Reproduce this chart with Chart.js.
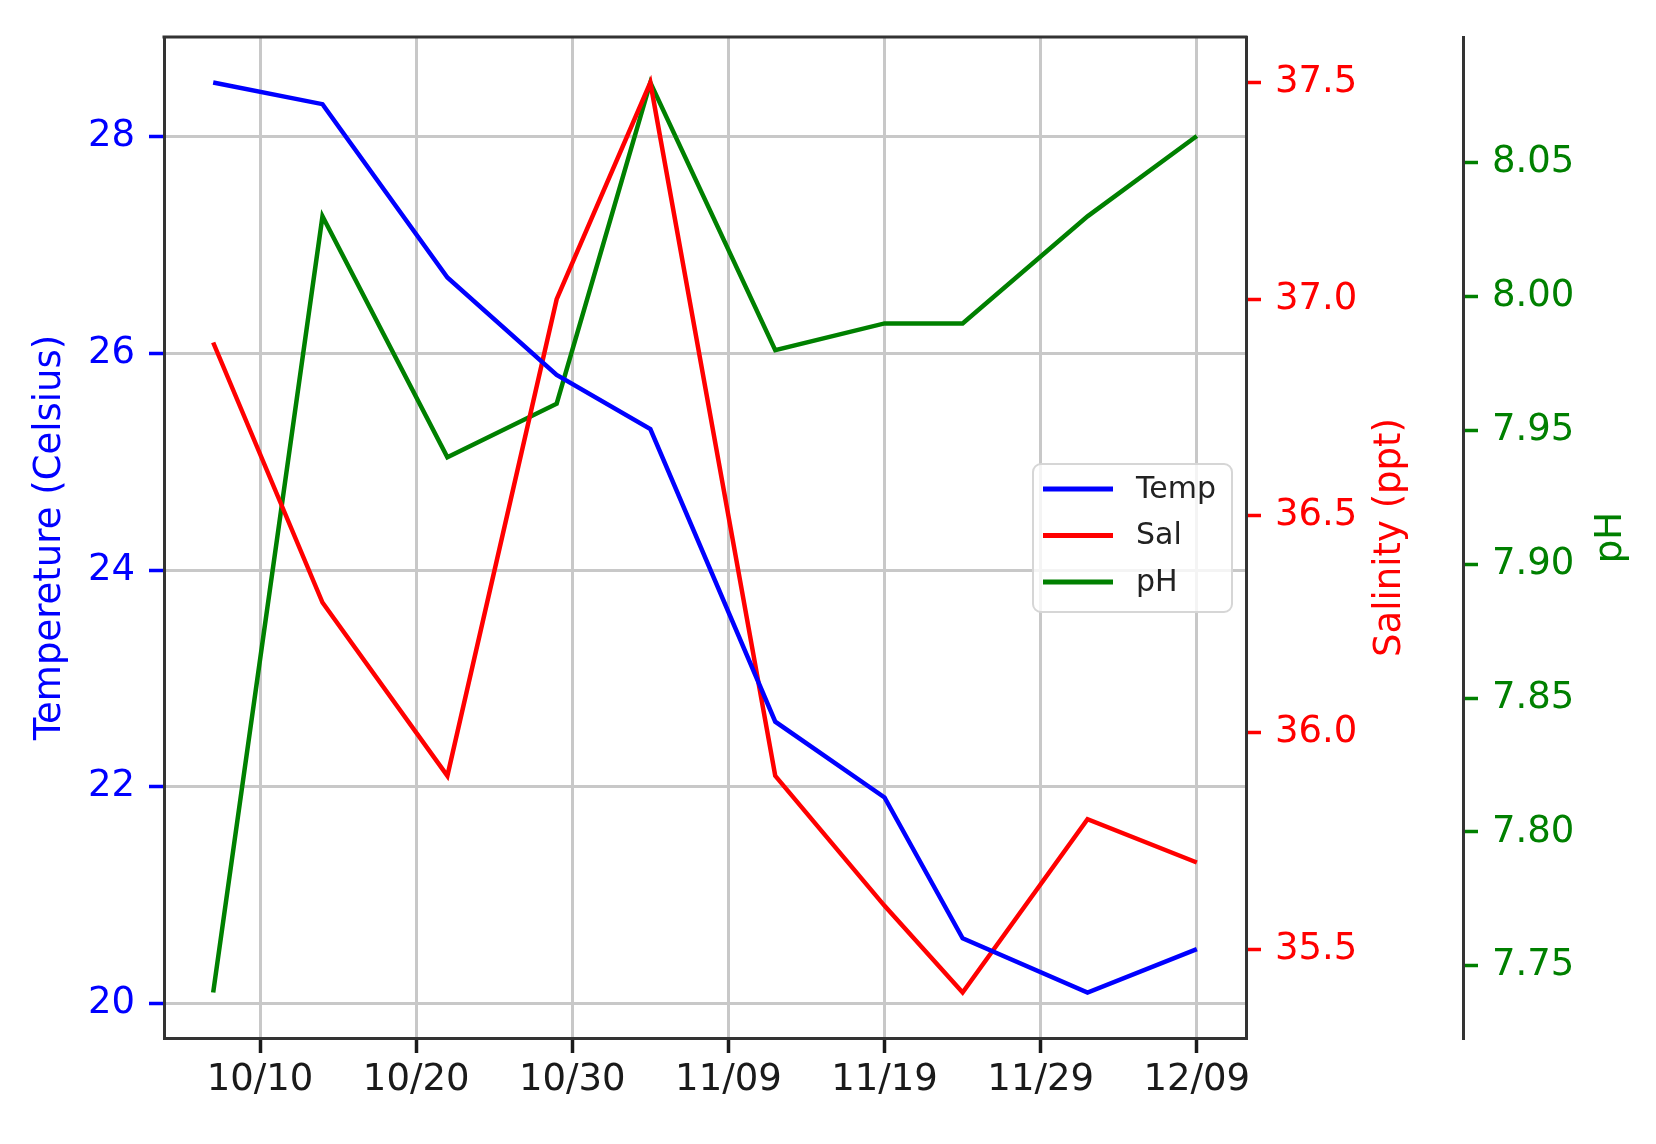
<!DOCTYPE html>
<html>
<head>
<meta charset="utf-8">
<script src="https://cdn.jsdelivr.net/npm/chart.js@4.4.1/dist/chart.umd.min.js"></script>
<style>
  html, body { margin: 0; padding: 0; background: #fff; }
  #wrap { width: 1656px; height: 1144px; }
</style>
</head>
<body>
<div id="wrap"><canvas id="chart" width="1656" height="1144"></canvas></div>
<script>
// sampling dates (mm/dd)
const dates = ['10/07', '10/14', '10/22', '10/29', '11/04', '11/12', '11/19', '11/24', '12/02', '12/09'];
const tempValues = [28.5, 28.3, 26.7, 25.8, 25.3, 22.6, 21.9, 20.6, 20.1, 20.5];
const salValues = [36.9, 36.3, 35.9, 37.0, 37.5, 35.9, 35.6, 35.4, 35.8, 35.7];
const phValues = [7.74, 8.03, 7.94, 7.96, 8.08, 7.98, 7.99, 7.99, 8.03, 8.06];

// tick labels
const xTickLabels = ['10/10', '10/20', '10/30', '11/09', '11/19', '11/29', '12/09'];
const tempTicks = [20, 22, 24, 26, 28];
const salTicks = [35.5, 36.0, 36.5, 37.0, 37.5];
const phTicks = [7.75, 7.80, 7.85, 7.90, 7.95, 8.00, 8.05];

const BLUE = '#0000ff';
const RED = '#ff0000';
const GREEN = '#008000';
const GRID = '#c8c8c8';
const SPINE = '#333333';
const FONT = 37;

Chart.defaults.font.family = "'DejaVu Sans', sans-serif";

// mm/dd -> day number (no time adapter available offline)
function toDay(s) {
  const [m, d] = s.split('/').map(Number);
  return (Date.UTC(2022, m - 1, d) - Date.UTC(2022, 9, 10)) / 86400000;
}

// matplotlib style 5% margins
function range(vals) {
  const lo = Math.min(...vals), hi = Math.max(...vals);
  const m = (hi - lo) * 0.05;
  return [lo - m, hi + m];
}

const xDays = dates.map(toDay);
const xTicks = xTickLabels.map(toDay);
const xRange = range(xDays);

const points = vals => vals.map((v, i) => ({ x: xDays[i], y: v }));

function yAxis(position, ticks, digits, color, width, r, onChart) {
  return {
    type: 'linear',
    position: position,
    min: r[0],
    max: r[1],
    afterBuildTicks: axis => { axis.ticks = ticks.map(v => ({ value: v })); },
    afterFit: axis => { axis.width = width; },
    ticks: {
      color: color,
      font: { size: FONT },
      padding: 14,
      callback: v => Number(v).toFixed(digits)
    },
    grid: {
      drawOnChartArea: onChart,
      color: GRID,
      lineWidth: 3,
      tickColor: color,
      tickLength: 15,
      tickWidth: 3.5
    },
    border: { display: true, color: SPINE, width: 3 }
  };
}

// frame top, rotated axis titles and legend box
const extras = {
  id: 'extras',
  afterDraw(chart) {
    const ctx = chart.ctx;
    const a = chart.chartArea;
    const s = chart.scales;
    ctx.save();

    ctx.strokeStyle = SPINE;
    ctx.lineWidth = 3;
    ctx.beginPath();
    ctx.moveTo(a.left - 1.5, a.top);
    ctx.lineTo(a.right + 1.5, a.top);
    ctx.stroke();

    const midY = (a.top + a.bottom) / 2;
    const titles = [
      ['Tempereture (Celsius)', s.yT.left + 50, BLUE],
      ['Salinity (ppt)', s.yS.right - 73, RED],
      ['pH', s.yP.left + 148, GREEN]
    ];
    ctx.font = FONT + "px 'DejaVu Sans'";
    ctx.textAlign = 'center';
    ctx.textBaseline = 'middle';
    titles.forEach(([text, x, color]) => {
      ctx.save();
      ctx.translate(x, midY);
      ctx.rotate(-Math.PI / 2);
      ctx.fillStyle = color;
      ctx.fillText(text, 0, 0);
      ctx.restore();
    });

    // legend
    const lx = 1033, ly = 464, lw = 199, lh = 148;
    ctx.beginPath();
    ctx.roundRect(lx, ly, lw, lh, 8);
    ctx.fillStyle = 'rgba(255,255,255,0.8)';
    ctx.fill();
    ctx.strokeStyle = '#d6d6d6';
    ctx.lineWidth = 2;
    ctx.stroke();
    ctx.font = "30px 'DejaVu Sans'";
    ctx.textAlign = 'left';
    chart.data.datasets.forEach((ds, i) => {
      const y = 489 + i * 46.5;
      ctx.strokeStyle = ds.borderColor;
      ctx.lineWidth = 5;
      ctx.beginPath();
      ctx.moveTo(lx + 10, y);
      ctx.lineTo(lx + 80, y);
      ctx.stroke();
      ctx.fillStyle = '#222';
      ctx.fillText(ds.label, lx + 103, y + 1);
    });
    ctx.restore();
  }
};

const lineStyle = { borderWidth: 4.5, pointRadius: 0, tension: 0, fill: false };

new Chart(document.getElementById('chart'), {
  type: 'line',
  data: {
    datasets: [
      { label: 'Temp', data: points(tempValues), borderColor: BLUE, yAxisID: 'yT', ...lineStyle },
      { label: 'Sal', data: points(salValues), borderColor: RED, yAxisID: 'yS', ...lineStyle },
      { label: 'pH', data: points(phValues), borderColor: GREEN, yAxisID: 'yP', ...lineStyle }
    ]
  },
  options: {
    responsive: false,
    animation: false,
    devicePixelRatio: 1,
    layout: { padding: { top: 37, left: 0, right: 0, bottom: 0 } },
    plugins: { legend: { display: false }, tooltip: { enabled: false } },
    scales: {
      x: {
        type: 'linear',
        position: 'bottom',
        min: xRange[0],
        max: xRange[1],
        afterBuildTicks: axis => { axis.ticks = xTicks.map(v => ({ value: v })); },
        afterFit: axis => { axis.height = 106; },
        ticks: {
          color: '#1a1a1a',
          font: { size: FONT },
          padding: 5,
          maxRotation: 0,
          autoSkip: false,
          callback: (v, i) => xTickLabels[i]
        },
        grid: { color: GRID, lineWidth: 3, tickColor: '#1a1a1a', tickLength: 15, tickWidth: 3.5 },
        border: { display: true, color: SPINE, width: 3 }
      },
      yT: yAxis('left', tempTicks, 0, BLUE, 164, range(tempValues), true),
      yS: yAxis('right', salTicks, 1, RED, 217, range(salValues), false),
      yP: yAxis('right', phTicks, 2, GREEN, 193, range(phValues), false)
    }
  },
  plugins: [extras]
});
</script>
</body>
</html>
